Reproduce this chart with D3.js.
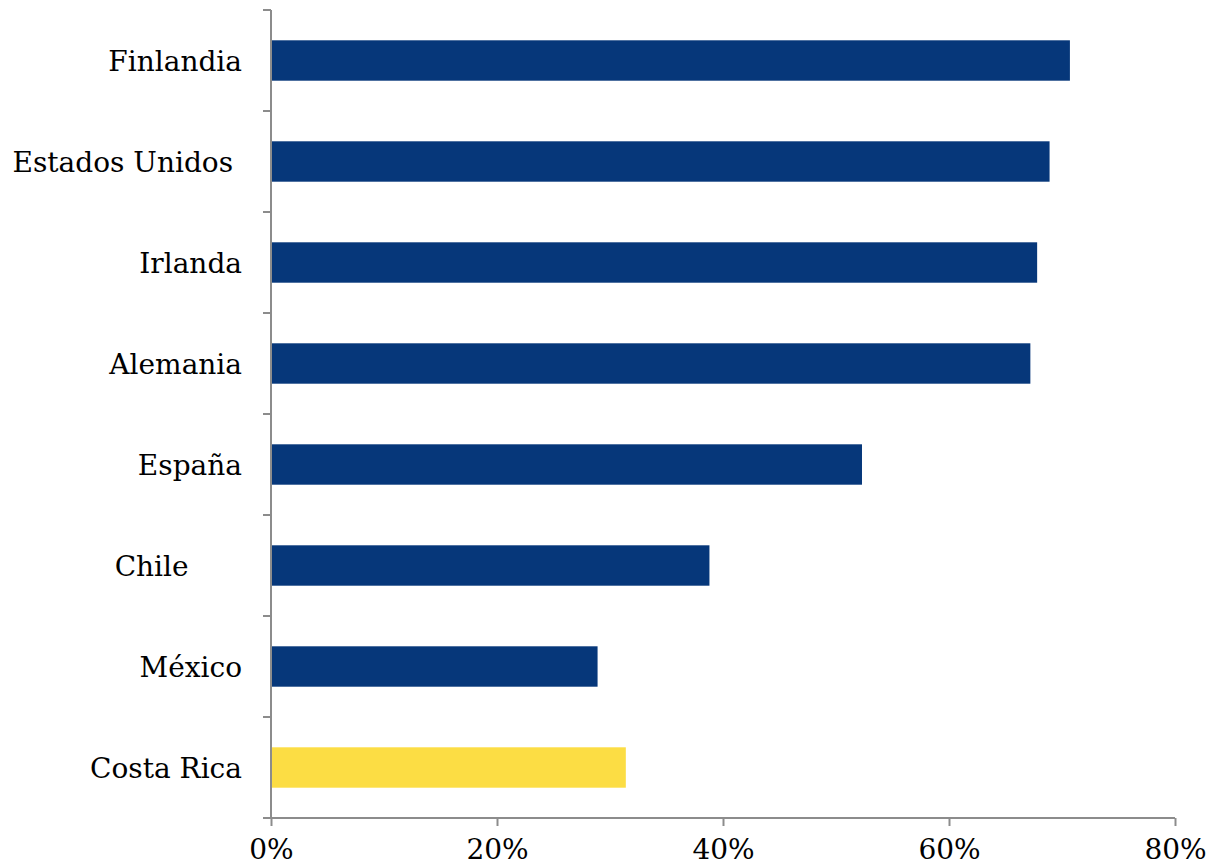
<!DOCTYPE html>
<html>
<head>
<meta charset="utf-8">
<script src="https://cdn.jsdelivr.net/npm/d3@7"></script>
<style>
  html, body { margin: 0; padding: 0; background: #fff; }
  svg text { font-family: "DejaVu Serif", "Liberation Serif", serif; white-space: pre; }
</style>
</head>
<body>
<svg id="chart" width="1209" height="867"></svg>
<script>
const categories = ["Finlandia", "Estados Unidos ", "Irlanda", "Alemania", "España", "Chile      ", "México", "Costa Rica"];
const values = [70.7, 68.9, 67.8, 67.2, 52.3, 38.8, 28.9, 31.4];
const highlight = ["Costa Rica"];
const xTicks = [0, 20, 40, 60, 80];

const svg = d3.select("#chart");
const mLeft = 271, mRight = 1175, mTop = 10, mBottom = 818;

const x = d3.scaleLinear().domain([0, 80]).range([mLeft, mRight]);
const y = d3.scaleBand().domain(categories).range([mTop, mBottom]).paddingInner(0.6).paddingOuter(0.3);

const axisColor = "#8c8c8c";

// bars
svg.append("g").selectAll("rect")
  .data(categories)
  .join("rect")
  .attr("x", x(0))
  .attr("y", d => y(d))
  .attr("width", (d, i) => x(values[i]) - x(0))
  .attr("height", y.bandwidth())
  .attr("fill", d => highlight.includes(d) ? "#fcdd44" : "#06377a");

// y axis (line + ticks at band boundaries)
const yb = d3.scaleBand().domain(categories).range([mTop, mBottom]);
const gy = svg.append("g");
gy.append("line").attr("x1", mLeft).attr("x2", mLeft).attr("y1", mTop).attr("y2", mBottom)
  .attr("stroke", axisColor).attr("stroke-width", 2);
const bounds = categories.map(d => yb(d)).concat([mBottom]);
gy.selectAll("line.t").data(bounds).join("line").attr("class", "t")
  .attr("x1", mLeft - 8).attr("x2", mLeft).attr("y1", d => d).attr("y2", d => d)
  .attr("stroke", axisColor).attr("stroke-width", 2);
gy.selectAll("text").data(categories).join("text")
  .attr("x", 242)
  .attr("y", d => yb(d) + yb.bandwidth() / 2)
  .attr("dy", "0.36em")
  .attr("text-anchor", "end")
  .attr("font-size", 28)
  .attr("fill", "#000")
  .text(d => d);

// x axis
const gx = svg.append("g").attr("transform", `translate(0,${mBottom})`);
gx.call(d3.axisBottom(x).tickValues(xTicks).tickSize(8).tickPadding(13).tickFormat(d => d + "%"));
gx.select(".domain").attr("stroke", axisColor).attr("stroke-width", 2).attr("d", `M${mLeft},0H${mRight}`);
gx.selectAll(".tick line").attr("stroke", axisColor).attr("stroke-width", 2);
gx.selectAll(".tick text").attr("font-size", 28).attr("fill", "#000")
  .attr("font-family", "\"DejaVu Serif\", serif");
</script>
</body>
</html>
